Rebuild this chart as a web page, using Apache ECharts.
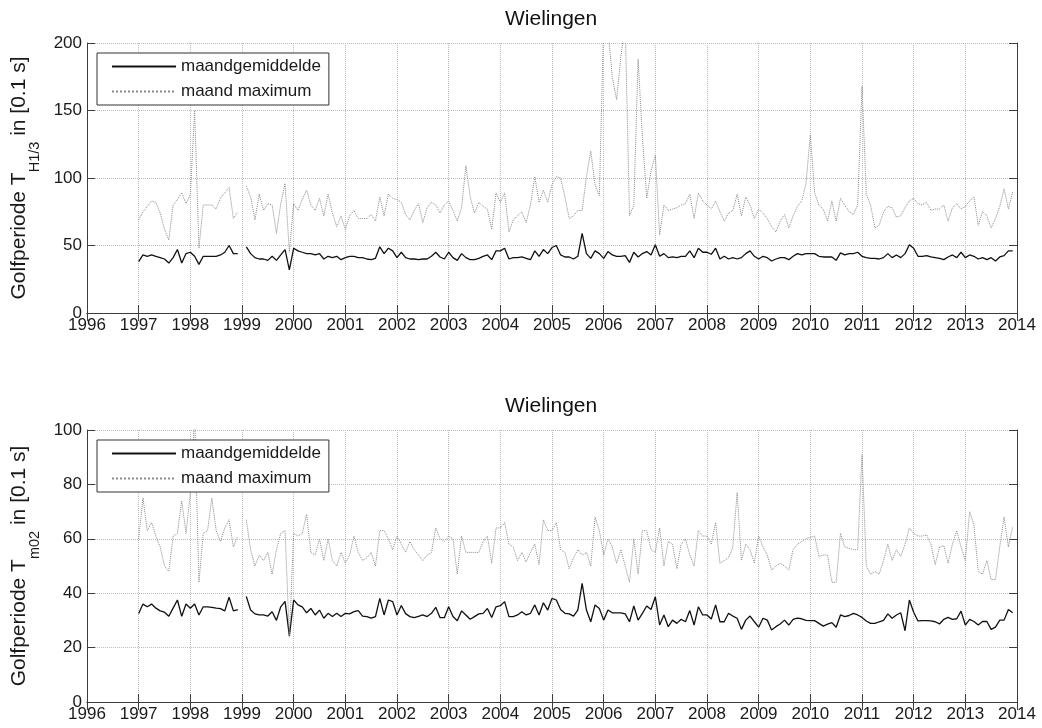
<!DOCTYPE html>
<html>
<head>
<meta charset="utf-8">
<script src="https://cdn.jsdelivr.net/npm/echarts@6/dist/echarts.min.js"></script>
<style>
  html, body { margin: 0; padding: 0; background: #fff; }
  #chart { width: 1042px; height: 728px; }
</style>
</head>
<body>
<div id="chart"></div>
<script>
// maandreeks jan 1997 .. dec 2013, null = geen meting
const startYear = 1997;
const legendNames = ['maandgemiddelde', 'maand maximum'];

// Golfperiode TH1/3 [0.1 s]
const hsMean = [
  38, 43, 42, 43, 42, 41, 40, 37, 41, 47, 37, 44,
  45, 42, 36, 42, 42, 42, 42, 43, 45, 50, 44, 44,
  null, 49, 44, 41, 40, 40, 39, 42, 39, 43, 47, 32,
  48, 46, 45, 44, 44, 43, 44, 40, 42, 41, 42, 39.5,
  41, 42, 42, 41, 41, 40, 39.5, 40.5, 49, 44, 48, 46,
  41, 45, 41, 40, 40, 39.5, 40, 40, 42, 45, 41.5, 40,
  45, 41, 39, 44, 41, 39.5, 39.5, 40.5, 42, 43, 39.5, 46,
  46, 48, 40, 41, 41, 41.5, 40.5, 39.5, 46, 42, 47, 44,
  48.5, 50, 43, 41.5, 41.5, 40, 42, 59, 44, 40.5, 46, 44,
  40.5, 45.5, 43, 42, 42, 42.5, 37.5, 45, 41.5, 44, 45.5, 43,
  50.5, 42, 44, 41, 41.5, 41, 42, 42, 46, 41, 48, 45,
  45, 43.5, 48, 40, 42, 40, 41, 40, 41, 44, 46, 42,
  40, 42, 41, 38.5, 40, 41, 41, 39.5, 42, 44, 43, 44,
  44, 44, 42, 41.5, 41.5, 41.5, 39, 44.5, 43, 44, 44, 45,
  42, 41, 40.5, 40.5, 40, 41, 44, 41, 43, 41, 44, 50.5,
  48, 42, 42, 42.5, 41.5, 41, 40.5, 39.5, 41.5, 43, 41, 45,
  41, 43, 42, 40, 41, 39.5, 41, 38.5, 41.5, 42.5, 46, 46
];
const hsMax = [
  69, 75, 79, 83, 82, 74, 62, 54, 80, 84, 89, 81,
  88, 150, 48, 80, 80, 80, 77, 85, 89, 93, 70, 75,
  null, 94, 86, 69, 88, 76, 81, 80, 59, 81, 96, 45,
  81, 76, 84, 91, 80, 76, 85, 72, 88, 74, 64, 72,
  62, 72, 76, 70, 70, 70, 73, 68, 86, 72, 88, 85,
  84, 82, 73, 69, 76, 81, 67, 78, 82, 80, 74, 80,
  83, 76, 68, 78, 109, 86, 74, 82, 79, 77, 62, 89,
  82, 89, 60, 69, 72, 75, 67, 80, 101, 82, 91, 82,
  95, 101, 100, 86, 70, 72, 76, 76, 101, 120, 95, 87,
  215, 210, 175, 158, 190, 215, 72, 80, 188, 130, 85, 105,
  117, 58, 80, 76, 77, 78, 80, 81, 88, 70, 89, 83,
  80, 77, 83, 75, 68, 74, 76, 88, 72, 86, 80, 70,
  77, 74, 70, 64, 60, 68, 73, 63, 72, 79, 83, 96,
  132, 89, 80, 77, 68, 83, 68, 85, 80, 75, 73, 80,
  168, 88, 80, 63, 65, 75, 79, 78, 71, 72, 78, 83,
  85, 81, 80, 82, 76, 77, 77, 80, 68, 78, 81, 77,
  79, 83, 86, 65, 75, 72, 63, 70, 79, 92, 77, 90
];

// Golfperiode Tm02 [0.1 s]
const tmMean = [
  32.5, 36, 35, 36, 34.5, 33.5, 33, 31.5, 34.5, 37.5, 31.5, 36,
  34.5, 36, 32, 35, 35, 34.8, 34.5, 34.3, 33.5, 38.5, 33.5, 34,
  null, 38.8, 33.8, 32.4, 32, 32, 31.6, 33.2, 30, 35, 37, 24.3,
  37.5, 35.7, 35, 32.8, 34.4, 32, 33.8, 30.8, 32.6, 31.4, 32.6, 31.4,
  32.6, 32.4, 33.2, 33.6, 31.6, 31.4, 30.8, 31.4, 38.1, 32, 37.5, 36.9,
  32, 35.5, 32.5, 31.4, 31, 31.5, 32, 31.4, 32.6, 34.8, 31, 31,
  35, 31.4, 29.9, 33.5, 32, 30.4, 31.4, 32.4, 32.6, 34.4, 31.1, 35,
  35.4, 36.9, 31.4, 31.4, 32, 33.2, 32, 32.6, 35.7, 32, 36.5, 33.8,
  38.1, 37.5, 34, 32.6, 32.4, 31.6, 33.8, 43.6, 33.8, 29.5, 35.7, 34.4,
  30.1, 33.8, 32.8, 32.8, 32.8, 32.4, 29.5, 35.3, 30.1, 32.6, 35.3, 34,
  38.7, 28.3, 32, 27.7, 30.1, 28.9, 30.4, 29.5, 33.6, 28.3, 35, 32,
  32, 30.5, 35.7, 29.5, 29.5, 32.6, 31.6, 30.8, 26.7, 30.1, 31.6, 29.5,
  27.5, 30.8, 30.1, 26.5, 27.7, 28.7, 30.1, 28.3, 30.4, 30.8, 30.6, 30,
  29.9, 29.9, 28.9, 27.9, 28.6, 29.2, 27.5, 32, 31.4, 31.8, 32.6, 32,
  31.1, 29.8, 28.9, 28.9, 29.5, 30, 32.4, 30.8, 32, 32.8, 26.2, 37.5,
  33, 29.8, 29.9, 29.9, 29.8, 29.5, 28.7, 30.4, 31.1, 30.4, 30.6, 33.4,
  28.3, 30.4, 29.6, 28.3, 29.6, 29.6, 26.7, 27.5, 30.1, 30.1, 34, 32.8
];
const tmMax = [
  60, 75, 63, 66, 61, 57, 50, 48, 61, 62, 74, 62,
  77, 105, 44, 62, 63, 75, 63, 59, 64, 67, 57, 61,
  null, 67, 56, 50, 54, 52, 55, 47, 56, 62, 63, 24,
  62, 61, 62, 69, 55, 54, 60, 52, 60, 52, 50, 55,
  51, 54, 61, 55, 52, 53, 55, 50, 63, 63, 60, 56,
  61, 58, 55, 59, 56, 54, 52, 54, 55, 64, 60, 59,
  61, 60, 47, 61, 55, 55, 55, 55, 59, 61, 51, 64,
  64, 66, 58, 57, 52, 55, 51.5, 55, 58, 50.5, 67, 63,
  63, 66, 56, 55, 49, 53, 56, 54, 55, 50, 68, 63,
  54, 60, 57, 51, 56, 50, 44, 60, 47, 63, 63, 56,
  55, 64, 50, 59, 58, 49, 58, 60, 54, 50, 63, 61,
  61, 58, 66, 51, 52, 53, 57, 77, 52, 58, 56, 51,
  61, 57, 54, 48.5, 50, 51, 50, 48.5, 56, 58, 59, 60,
  60.5, 61, 53.5, 54, 54, 44, 44, 62, 57, 56.5, 56, 56,
  91, 50, 47, 48, 47, 52, 58, 52, 56, 53.5, 58, 64,
  62, 61, 61, 61.5, 58, 50.5, 57, 57.5, 51, 58, 63, 57,
  52, 70, 65, 48, 47, 52, 45, 45, 57, 68, 57, 64.5
];

const FONT = '"Liberation Sans", Arial, Helvetica, sans-serif';
const AXIS_COLOR = '#3c3c3c';

function toPairs(vals) {
  return vals.map((v, i) => [startYear + i / 12, v === null ? '-' : v]);
}

function xAxes(gridIndex) {
  return [
    {
      type: 'value', gridIndex: gridIndex, min: 1996, max: 2014, interval: 1,
      axisLine: { show: true, lineStyle: { color: AXIS_COLOR, width: 1 } },
      axisTick: { show: true, inside: true, length: 8, lineStyle: { color: AXIS_COLOR } },
      axisLabel: { show: true, fontSize: 17, fontFamily: FONT, color: '#1a1a1a', margin: 4,
        showMinLabel: true, showMaxLabel: true, formatter: v => String(v) },
      splitLine: { show: true, lineStyle: { type: 'dotted', color: '#bdbdbd', width: 1 } }
    },
    {
      type: 'value', gridIndex: gridIndex, position: 'top', min: 1996, max: 2014, interval: 1,
      axisLine: { show: true, lineStyle: { color: AXIS_COLOR, width: 1 } },
      axisTick: { show: true, inside: true, length: 8, lineStyle: { color: AXIS_COLOR } },
      axisLabel: { show: false },
      splitLine: { show: false }
    }
  ];
}

function yAxes(gridIndex, max, interval, sub) {
  // subscript: kleiner lettertype, omlaag geschoven via padding
  const rich = {
    a: { fontSize: 21, lineHeight: 24, verticalAlign: 'top', fontFamily: FONT, color: '#1a1a1a' },
    b: { fontSize: 14.5, lineHeight: 16, verticalAlign: 'top', padding: [19, 0, 0, 0], fontFamily: FONT, color: '#1a1a1a' }
  };
  return [
    {
      type: 'value', gridIndex: gridIndex, min: 0, max: max, interval: interval,
      name: '{a|Golfperiode T}{b|' + sub + '}{a| in [0.1 s]}',
      nameLocation: 'middle', nameRotate: 90, nameGap: 46,
      nameTextStyle: { rich: rich },
      axisLine: { show: true, lineStyle: { color: AXIS_COLOR, width: 1 } },
      axisTick: { show: true, inside: true, length: 8, lineStyle: { color: AXIS_COLOR } },
      axisLabel: { fontSize: 17, fontFamily: FONT, color: '#1a1a1a', margin: 5 },
      splitLine: { show: true, lineStyle: { type: 'dotted', color: '#bdbdbd', width: 1 } }
    },
    {
      type: 'value', gridIndex: gridIndex, position: 'right', min: 0, max: max, interval: interval,
      axisLine: { show: true, lineStyle: { color: AXIS_COLOR, width: 1 } },
      axisTick: { show: true, inside: true, length: 8, lineStyle: { color: AXIS_COLOR } },
      axisLabel: { show: false },
      splitLine: { show: false }
    }
  ];
}

function legendBox(top) {
  return {
    orient: 'vertical', left: 97, top: top,
    padding: [5, 8, 5, 14], itemWidth: 64, itemHeight: 14, itemGap: 8,
    borderColor: '#333', borderWidth: 1, backgroundColor: '#fff',
    selectedMode: false,
    itemStyle: { opacity: 0 },
    textStyle: { fontSize: 17, lineHeight: 17, fontFamily: FONT, color: '#1a1a1a' },
    data: legendNames
  };
}

function seriesPair(axisIndex, meanVals, maxVals) {
  return [
    {
      name: legendNames[0], type: 'line', xAxisIndex: axisIndex, yAxisIndex: axisIndex,
      data: toPairs(meanVals), symbol: 'none', connectNulls: false, clip: true,
      lineStyle: { color: '#111', width: 1.3 }, itemStyle: { color: '#111' }
    },
    {
      name: legendNames[1], type: 'line', xAxisIndex: axisIndex, yAxisIndex: axisIndex,
      data: toPairs(maxVals), symbol: 'none', connectNulls: false, clip: true,
      lineStyle: { color: '#8a8a8a', width: 1, type: 'dotted' }, itemStyle: { color: '#8a8a8a' }
    }
  ];
}

const chart = echarts.init(document.getElementById('chart'), null, { renderer: 'canvas' });
chart.setOption({
  animation: false,
  backgroundColor: '#fff',
  title: [
    { text: 'Wielingen', left: 505, top: 9, padding: 0,
      textStyle: { fontSize: 21, fontWeight: 'normal', fontFamily: FONT, color: '#111' } },
    { text: 'Wielingen', left: 505, top: 396, padding: 0,
      textStyle: { fontSize: 21, fontWeight: 'normal', fontFamily: FONT, color: '#111' } }
  ],
  legend: [legendBox(53), legendBox(440)],
  grid: [
    { left: 87, top: 43, width: 930, height: 270 },
    { left: 87, top: 430, width: 930, height: 272 }
  ],
  xAxis: [...xAxes(0), ...xAxes(1)],
  yAxis: [...yAxes(0, 200, 50, 'H1/3'), ...yAxes(1, 100, 20, 'm02')],
  series: [
    ...seriesPair(0, hsMean, hsMax),
    ...seriesPair(2, tmMean, tmMax)
  ]
});
</script>
</body>
</html>
